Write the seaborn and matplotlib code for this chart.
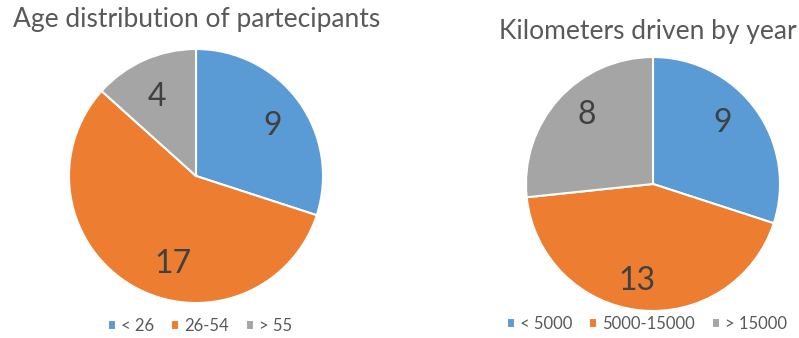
import matplotlib
matplotlib.use("Agg")
import matplotlib.pyplot as plt
import seaborn as sns

sns.set_theme(style="white")
plt.rcParams["font.family"] = ["Lato", "DejaVu Sans"]

age_labels = ["< 26", "26-54", "> 55"]
age_counts = [9, 17, 4]
km_labels = ["< 5000", "5000-15000", "> 15000"]
km_counts = [9, 13, 8]
colors = ["#5B9BD5", "#ED7D31", "#A5A5A5"]

# best-fit placement of the value labels inside each pie (pie-radius units)
age_label_pos = [(0.60, 0.39), (-0.18, -0.69), (-0.31, 0.62)]
km_label_pos = [(0.55, 0.48), (-0.13, -0.76), (-0.52, 0.54)]

W, H = 799, 338
fig = plt.figure(figsize=(W / 100, H / 100), dpi=100)


def pie_axes(cx, cy, r):
    return fig.add_axes([(cx - r) / W, (H - cy - r) / H, 2 * r / W, 2 * r / H])


def draw(ax, counts, labels, label_pos, title, title_xy, legend_xy):
    wedges, _, autotexts = ax.pie(
        counts, colors=colors, startangle=90, counterclock=False,
        radius=1.0, pctdistance=0.70,
        autopct=lambda p: f"{round(p * sum(counts) / 100)}",
        wedgeprops=dict(edgecolor="white", linewidth=1.5),
    )
    for t, pos in zip(autotexts, label_pos):
        t.set_position(pos)
        t.set_color("#404040")
        t.set_fontsize(23)
    ax.set_xlim(-1.0, 1.0)
    ax.set_ylim(-1.0, 1.0)
    ax.set_aspect("equal")
    ax.axis("off")
    fig.text(title_xy[0] / W, 1 - title_xy[1] / H, title, ha="center", va="center",
             fontsize=19, color="#595959")
    fig.legend(wedges, labels, loc="center", bbox_to_anchor=(legend_xy[0] / W, 1 - legend_xy[1] / H),
               ncol=3, frameon=False, fontsize=12, labelcolor="#595959",
               handlelength=0.5, handleheight=0.5, handletextpad=0.3, columnspacing=1.0)


ax1 = pie_axes(196, 176, 127)
draw(ax1, age_counts, age_labels, age_label_pos,
     "Age distribution of partecipants", (197, 20), (200, 326))

ax2 = pie_axes(653, 184, 127)
draw(ax2, km_counts, km_labels, km_label_pos,
     "Kilometers driven by year", (648, 32), (647, 324))

fig.savefig("out.png", dpi=100, facecolor="white")
